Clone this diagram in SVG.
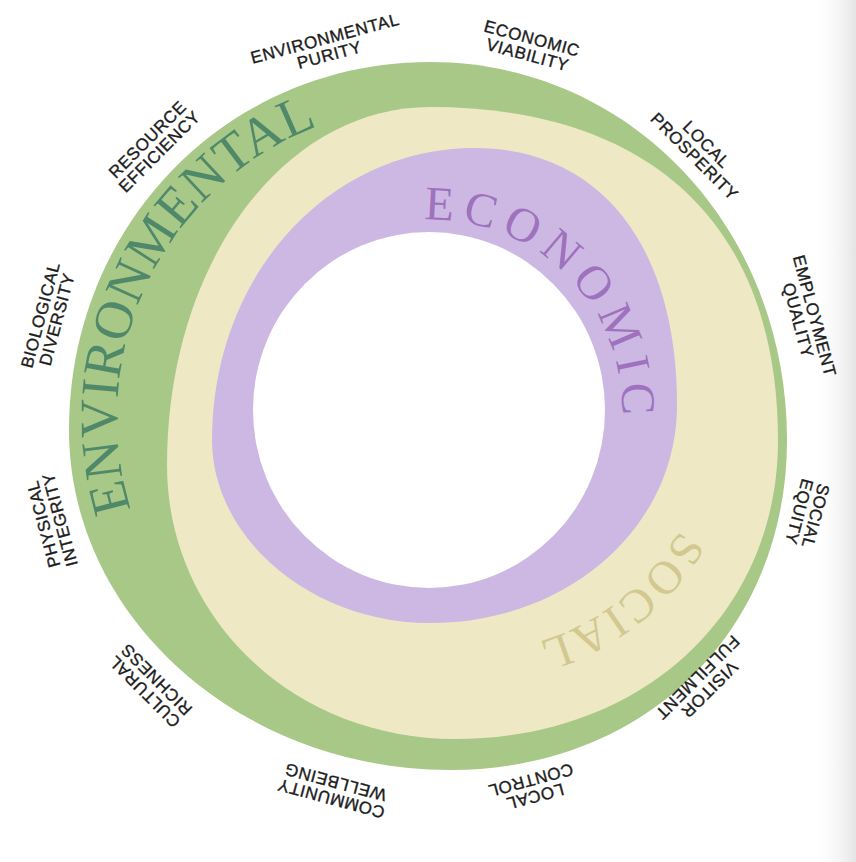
<svg xmlns="http://www.w3.org/2000/svg" xmlns:xlink="http://www.w3.org/1999/xlink" width="856" height="862" viewBox="0 0 856 862">
  <style>
    .lbl { font-family: "Liberation Sans", Arial, Helvetica, sans-serif; font-size: 17px; letter-spacing: 0.6px; fill: #1c1c1c; stroke: #1c1c1c; stroke-width: 0.35px; text-anchor: middle; }
    .big { font-family: "Liberation Serif", "Times New Roman", serif; text-anchor: middle; }
  </style>
  <defs>
    <linearGradient id="edge" x1="0" y1="0" x2="1" y2="0">
      <stop offset="0" stop-color="#ffffff" stop-opacity="0"/>
      <stop offset="1" stop-color="#e4e4e4"/>
    </linearGradient>
    <path id="pEnv" d="M288.4,696 A312,312 0 0 1 561.9,135.2"/>
    <path id="pEco" d="M297.65,275.65 A190,190 0 0 1 570.97,539.58"/>
    <path id="pSoc" d="M664.1,263.8 A243,243 0 0 1 281.2,562.9"/>
  </defs>
  <rect width="856" height="862" fill="#ffffff"/>
  <rect x="812" y="0" width="44" height="862" fill="url(#edge)"/>

  <g id="ring-environmental">
    <path d="M430,62 C630,62 787,228 787,440 C787,631 645,770 450,770 C240.5,770 69,617 69,430 C69,224 228,62 430,62 Z" fill="#a8c887"/>
  </g>
  <g id="ring-social">
    <path d="M430,107 C652.7,107 778,226.9 778,440 C778,613.4 642.3,739 455,739 C293.7,739 167,618.4 167,465 C167,264.5 282.7,107 430,107 Z" fill="#eee8c5"/>
  </g>
  <g id="ring-economic">
    <path d="M475,148 C600.2,148 677,245.7 677,405 C677,527.1 568.3,623 430,623 C312.3,623 212,538.8 212,440 C212,276.5 327.7,148 475,148 Z" fill="#cdb8e4"/>
  </g>
  <g id="centre">
    <ellipse cx="429" cy="410" rx="176" ry="178" fill="#ffffff"/>
  </g>

  <g id="title-environmental">
    <text class="big" font-size="54" letter-spacing="0.5" fill="#50896a"><textPath xlink:href="#pEnv" href="#pEnv" startOffset="50%">ENVIRONMENTAL</textPath></text>
  </g>
  <g id="title-economic">
    <text class="big" font-size="48" letter-spacing="8" fill="#9f72bd"><textPath xlink:href="#pEco" href="#pEco" startOffset="51%">ECONOMIC</textPath></text>
  </g>
  <g id="title-social">
    <text class="big" font-size="47" letter-spacing="3" fill="#d2c890"><textPath xlink:href="#pSoc" href="#pSoc" startOffset="50%">SOCIAL</textPath></text>
  </g>

  <g id="label-environmental-purity" transform="translate(327,46) rotate(-15)">
    <text class="lbl" y="-2">ENVIRONMENTAL</text><text class="lbl" y="15">PURITY</text>
  </g>
  <g id="label-economic-viability" transform="translate(530,46) rotate(15)">
    <text class="lbl" y="-2">ECONOMIC</text><text class="lbl" y="15">VIABILITY</text>
  </g>
  <g id="label-local-prosperity" transform="translate(701,150) rotate(45)">
    <text class="lbl" y="-2">LOCAL</text><text class="lbl" y="15">PROSPERITY</text>
  </g>
  <g id="label-employment-quality" transform="translate(807,318) rotate(75)">
    <text class="lbl" y="-2">EMPLOYMENT</text><text class="lbl" y="15">QUALITY</text>
  </g>
  <g id="label-social-equity" transform="translate(808,514) rotate(105)">
    <text class="lbl" y="-2">SOCIAL</text><text class="lbl" y="15">EQUITY</text>
  </g>
  <g id="label-visitor-fulfilment" transform="translate(704,684) rotate(135)">
    <text class="lbl" y="-2">VISITOR</text><text class="lbl" y="15">FULFILMENT</text>
  </g>
  <g id="label-local-control" transform="translate(533,789) rotate(165)">
    <text class="lbl" y="-2">LOCAL</text><text class="lbl" y="15">CONTROL</text>
  </g>
  <g id="label-community-wellbeing" transform="translate(333,791) rotate(-165)">
    <text class="lbl" y="-2">COMMUNITY</text><text class="lbl" y="15">WELLBEING</text>
  </g>
  <g id="label-cultural-richness" transform="translate(150,686) rotate(-135)">
    <text class="lbl" y="-2">CULTURAL</text><text class="lbl" y="15">RICHNESS</text>
  </g>
  <g id="label-physical-integrity" transform="translate(51,522) rotate(-105)">
    <text class="lbl" y="-2">PHYSICAL</text><text class="lbl" y="15">INTEGRITY</text>
  </g>
  <g id="label-biological-diversity" transform="translate(48,317) rotate(-75)">
    <text class="lbl" y="-2">BIOLOGICAL</text><text class="lbl" y="15">DIVERSITY</text>
  </g>
  <g id="label-resource-efficiency" transform="translate(153,145) rotate(-45)">
    <text class="lbl" y="-2">RESOURCE</text><text class="lbl" y="15">EFFICIENCY</text>
  </g>

  <g id="connectors"></g>
</svg>
